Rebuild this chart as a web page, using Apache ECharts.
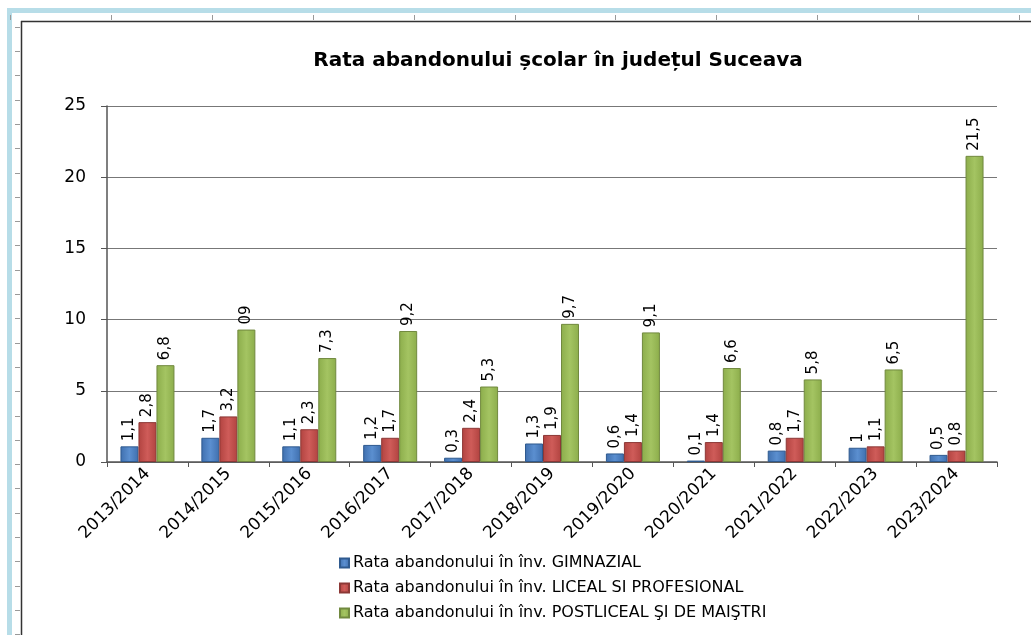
<!DOCTYPE html>
<html>
<head>
<meta charset="utf-8">
<title>Rata abandonului școlar</title>
<script src="https://cdn.jsdelivr.net/npm/echarts@6/dist/echarts.min.js"></script>
<style>
  html, body { margin: 0; padding: 0; background: #fff; }
  #chart { width: 1031px; height: 635px; }
</style>
</head>
<body>
<div id="chart"></div>
<script>
// ani scolari
const years = ['2013/2014', '2014/2015', '2015/2016', '2016/2017', '2017/2018', '2018/2019',
  '2019/2020', '2020/2021', '2021/2022', '2022/2023', '2023/2024'];
const gimnazial = [1.1, 1.7, 1.1, 1.2, 0.3, 1.3, 0.6, 0.1, 0.8, 1, 0.5];
const liceal = [2.8, 3.2, 2.3, 1.7, 2.4, 1.9, 1.4, 1.4, 1.7, 1.1, 0.8];
const postliceal = [6.8, 9.3, 7.3, 9.2, 5.3, 9.7, 9.1, 6.6, 5.8, 6.5, 21.5];
// etichetele asa cum apar in poza (una e scrisa "09")
const postlicealLabels = ['6,8', '09', '7,3', '9,2', '5,3', '9,7', '9,1', '6,6', '5,8', '6,5', '21,5'];
const seriesNames = [
  'Rata abandonului în înv. GIMNAZIAL',
  'Rata abandonului în înv. LICEAL SI PROFESIONAL',
  'Rata abandonului în înv. POSTLICEAL ŞI DE MAIŞTRI'
];
const yTicks = [0, 5, 10, 15, 20, 25];

const fontLabel = '"DejaVu Sans", sans-serif';

function barStyle(c1, c2, border) {
  return {
    color: {
      type: 'linear', x: 0, y: 0, x2: 1, y2: 0,
      colorStops: [
        { offset: 0, color: c2 },
        { offset: 0.5, color: c1 },
        { offset: 1, color: c2 }
      ]
    },
    borderColor: border,
    borderWidth: 1
  };
}

function valLabel(formatter) {
  return {
    show: true,
    position: 'top',
    rotate: 90,
    align: 'left',
    verticalAlign: 'middle',
    distance: 5,
    color: '#000',
    fontSize: 15,
    fontFamily: fontLabel,
    formatter: formatter
  };
}
const comma = p => String(p.value).replace('.', ',');

// decor: chenarul albastru si rigla din captura
const deco = [
  { type: 'rect', shape: { x: 7, y: 8, width: 5, height: 640 }, style: { fill: '#b7dde8' }, silent: true },
  { type: 'rect', shape: { x: 7, y: 8, width: 1030, height: 5 }, style: { fill: '#b7dde8' }, silent: true },
  { type: 'line', shape: { x1: 21.5, y1: 21, x2: 21.5, y2: 640 }, style: { stroke: '#333', lineWidth: 1.5 }, silent: true },
  { type: 'line', shape: { x1: 21, y1: 21.5, x2: 1040, y2: 21.5 }, style: { stroke: '#333', lineWidth: 1.5 }, silent: true }
];
for (let y = 26.7; y < 635; y += 24.3) {
  deco.push({ type: 'line', shape: { x1: 15, y1: Math.round(y) + 0.5, x2: 20, y2: Math.round(y) + 0.5 }, style: { stroke: '#999', lineWidth: 1 }, silent: true });
}
for (let x = 10; x < 1031; x += 100.9) {
  deco.push({ type: 'line', shape: { x1: Math.round(x) + 0.5, y1: 15, x2: Math.round(x) + 0.5, y2: 20 }, style: { stroke: '#999', lineWidth: 1 }, silent: true });
}

const option = {
  animation: false,
  backgroundColor: '#fff',
  title: {
    text: 'Rata abandonului școlar în județul Suceava',
    left: 553,
    textAlign: 'center',
    top: 46,
    textStyle: { fontFamily: '"DejaVu Sans", sans-serif', fontWeight: 'bold', fontSize: 20, color: '#000' }
  },
  legend: {
    orient: 'vertical',
    left: 334,
    top: 550,
    itemWidth: 9,
    itemHeight: 9,
    itemGap: 9,
    icon: 'rect',
    textStyle: { fontFamily: fontLabel, fontSize: 16, color: '#000', padding: [0, 0, 0, -1] },
    data: seriesNames
  },
  grid: { left: 107, top: 106, right: 34, bottom: 173, containLabel: false },
  xAxis: {
    type: 'category',
    data: years,
    axisLine: { lineStyle: { color: '#555', width: 1.5 } },
    axisTick: { show: true, length: 5, alignWithLabel: false, lineStyle: { color: '#555' } },
    axisLabel: {
      interval: 0,
      rotate: 45,
      margin: 9,
      color: '#000',
      fontSize: 17,
      fontFamily: fontLabel
    }
  },
  yAxis: {
    type: 'value',
    min: 0,
    max: 25,
    interval: 5,
    axisLine: { show: true, lineStyle: { color: '#555', width: 1.5 } },
    axisTick: { show: true, length: 6, lineStyle: { color: '#555' } },
    splitLine: { show: true, lineStyle: { color: '#777', width: 1.2 } },
    axisLabel: {
      margin: 21,
      color: '#000',
      fontSize: 17,
      fontFamily: fontLabel,
      formatter: v => (yTicks.includes(v) ? String(v) : '')
    }
  },
  series: [
    {
      name: seriesNames[0], type: 'bar', data: gimnazial,
      barWidth: 18, barGap: '0%',
      itemStyle: barStyle('#5b8fd0', '#3f6fae', '#2f5a8f'),
      label: valLabel(comma)
    },
    {
      name: seriesNames[1], type: 'bar', data: liceal,
      barWidth: 18, barGap: '0%',
      itemStyle: barStyle('#cf5c59', '#b14340', '#8c3836'),
      label: valLabel(comma)
    },
    {
      name: seriesNames[2], type: 'bar', data: postliceal,
      barWidth: 18, barGap: '0%',
      itemStyle: barStyle('#a4c462', '#8cad4b', '#71893f'),
      label: valLabel(p => postlicealLabels[p.dataIndex])
    }
  ],
  color: ['#4f81bd', '#c0504d', '#9bbb59'],
  graphic: deco
};

const chart = echarts.init(document.getElementById('chart'));
chart.setOption(option);
</script>
</body>
</html>
